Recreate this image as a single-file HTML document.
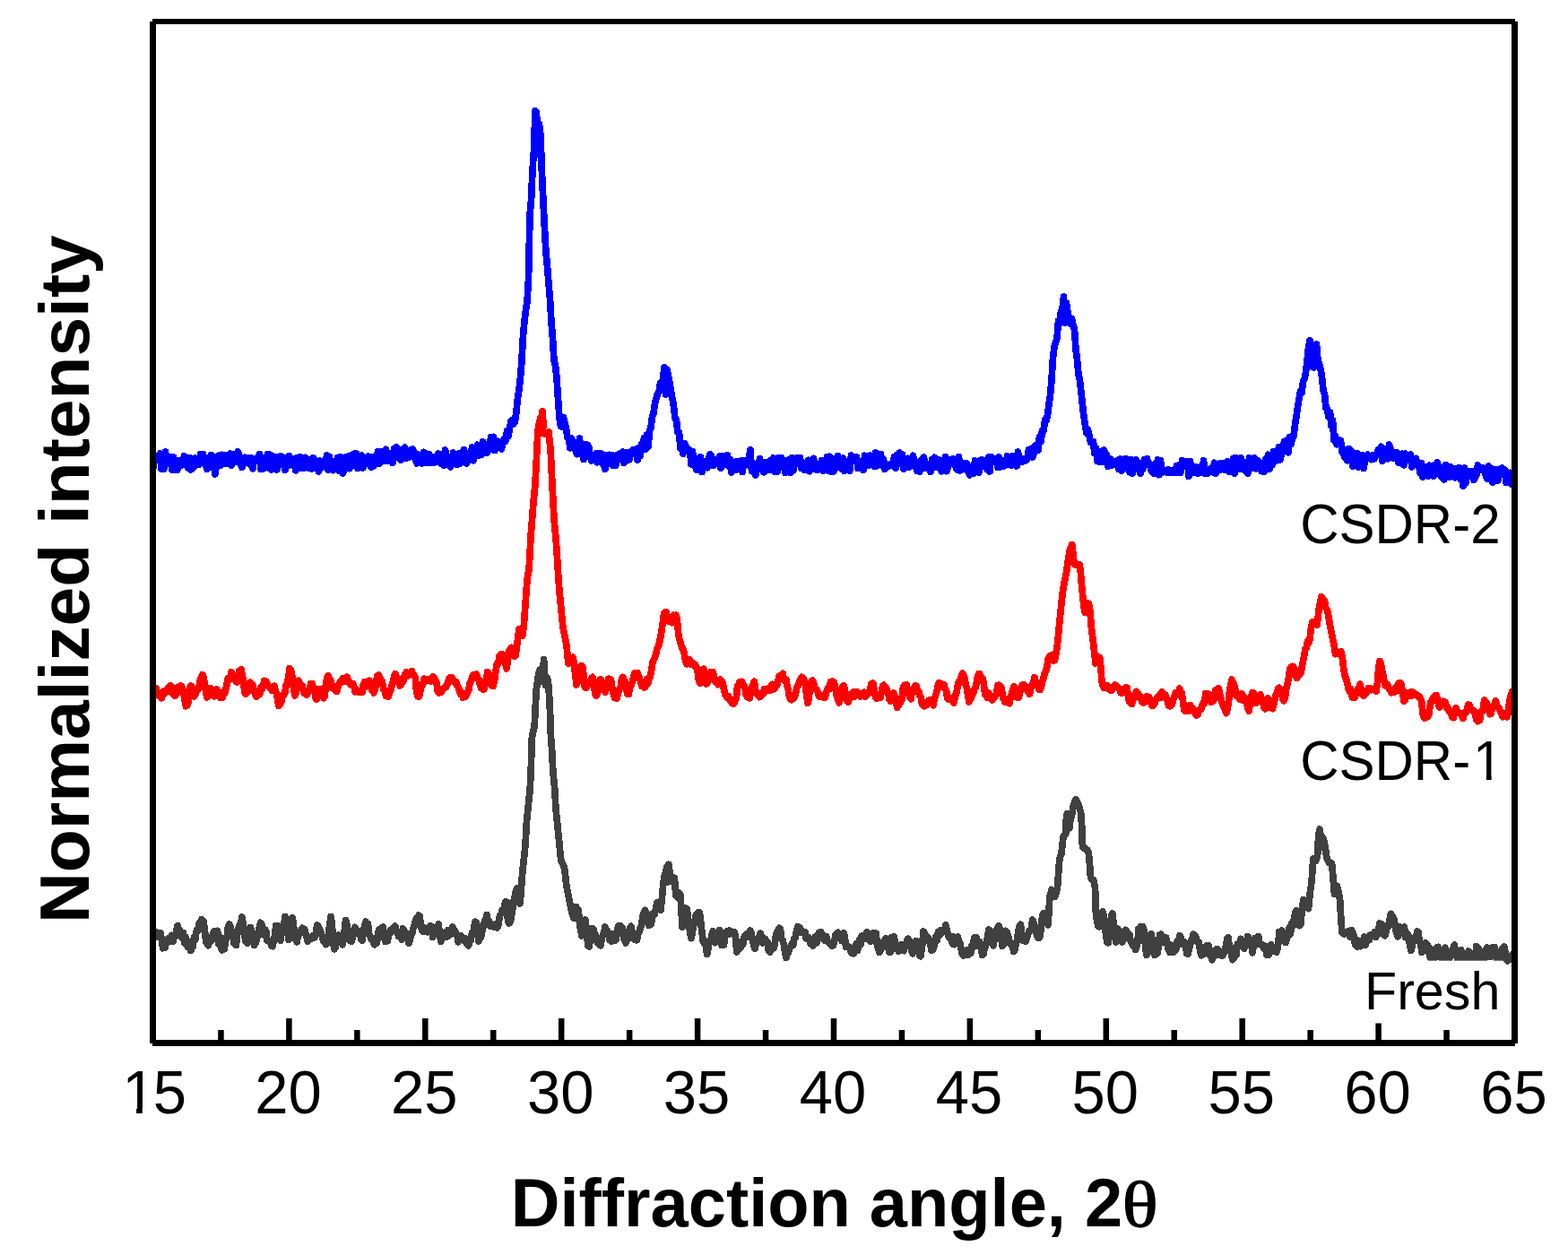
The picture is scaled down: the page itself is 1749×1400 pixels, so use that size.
<!DOCTYPE html>
<html lang="en">
<head>
<meta charset="utf-8">
<title>XRD patterns</title>
<style>
html,body{margin:0;padding:0;background:#fff;}
body{width:1749px;height:1400px;overflow:hidden;}
svg{display:block;}
text{font-family:"Liberation Sans",sans-serif;fill:#000;}
.tick{font-size:67px;text-anchor:middle;}
.lab{font-size:60px;text-anchor:end;}
.ax{font-weight:bold;}
.th{font-family:"Liberation Serif","DejaVu Serif",serif;font-weight:normal;}
.curve{fill:none;stroke-width:7.7;stroke-linejoin:round;stroke-linecap:butt;shape-rendering:crispEdges;}
</style>
</head>
<body>
<svg width="1749" height="1400" viewBox="0 0 1749 1400">
<rect x="0" y="0" width="1749" height="1400" fill="#ffffff"/>
<defs>
<clipPath id="plot"><rect x="172" y="26" width="1516" height="1136"/></clipPath>
</defs>
<g clip-path="url(#plot)">
<path class="curve" stroke="#0000ff" d="M171.0,522.1 L172.5,510.1 L174.0,508.9 L175.5,511.8 L177.0,509.4 L178.5,505.9 L180.0,523.0 L181.5,518.7 L183.0,523.2 L184.5,504.0 L186.0,517.4 L187.5,516.7 L189.0,513.1 L190.5,509.8 L192.0,523.9 L193.5,510.0 L195.0,524.1 L196.5,516.9 L198.0,524.3 L199.5,513.7 L201.0,513.9 L202.5,519.1 L204.0,518.4 L205.5,508.8 L207.0,510.7 L208.5,518.4 L210.0,522.4 L211.5,510.6 L213.0,523.9 L214.5,523.0 L216.0,521.3 L217.5,511.1 L219.0,512.5 L220.5,518.0 L222.0,518.2 L223.5,507.0 L225.0,512.2 L226.5,506.6 L228.0,511.5 L229.5,518.3 L231.0,523.4 L232.5,511.1 L234.0,517.8 L235.5,507.6 L237.0,509.2 L238.5,519.2 L240.0,529.0 L241.5,517.7 L243.0,509.2 L244.5,508.0 L246.0,519.2 L247.5,507.3 L249.0,508.0 L250.5,516.9 L252.0,507.7 L253.5,516.9 L255.0,510.8 L256.5,506.0 L258.0,519.2 L259.5,516.0 L261.0,507.0 L262.5,507.2 L264.0,514.8 L265.5,504.0 L267.0,509.3 L268.5,518.0 L270.0,521.5 L271.5,516.5 L273.0,510.3 L274.5,515.7 L276.0,511.4 L277.5,511.2 L279.0,518.3 L280.5,510.9 L282.0,522.7 L283.5,511.5 L285.0,512.8 L286.5,511.6 L288.0,511.3 L289.5,506.5 L291.0,523.5 L292.5,512.2 L294.0,522.7 L295.5,510.3 L297.0,517.9 L298.5,506.8 L300.0,521.9 L301.5,507.3 L303.0,523.9 L304.5,509.1 L306.0,521.0 L307.5,510.1 L309.0,523.9 L310.5,510.2 L312.0,518.4 L313.5,508.9 L315.0,510.7 L316.5,510.4 L318.0,524.4 L319.5,517.9 L321.0,519.9 L322.5,508.5 L324.0,518.2 L325.5,513.4 L327.0,519.1 L328.5,511.4 L330.0,524.8 L331.5,510.6 L333.0,520.1 L334.5,509.4 L336.0,522.1 L337.5,511.2 L339.0,522.5 L340.5,510.3 L342.0,513.8 L343.5,521.9 L345.0,513.3 L346.5,513.7 L348.0,523.0 L349.5,510.8 L351.0,512.5 L352.5,518.6 L354.0,520.0 L355.5,526.0 L357.0,513.9 L358.5,522.1 L360.0,520.1 L361.5,518.4 L363.0,520.0 L364.5,508.0 L366.0,524.0 L367.5,509.7 L369.0,520.3 L370.5,520.0 L372.0,524.6 L373.5,518.4 L375.0,519.6 L376.5,510.4 L378.0,525.3 L379.5,509.5 L381.0,520.6 L382.5,528.0 L384.0,522.2 L385.5,510.2 L387.0,522.6 L388.5,509.2 L390.0,522.7 L391.5,508.0 L393.0,518.7 L394.5,506.3 L396.0,519.1 L397.5,505.9 L399.0,522.6 L400.5,509.9 L402.0,510.9 L403.5,508.0 L405.0,522.0 L406.5,516.1 L408.0,515.9 L409.5,515.3 L411.0,509.0 L412.5,517.9 L414.0,521.1 L415.5,509.6 L417.0,519.8 L418.5,514.5 L420.0,510.1 L421.5,503.6 L423.0,517.2 L424.5,504.3 L426.0,514.5 L427.5,503.8 L429.0,514.5 L430.5,501.2 L432.0,514.3 L433.5,505.5 L435.0,511.6 L436.5,505.6 L438.0,516.5 L439.5,500.7 L441.0,510.5 L442.5,499.0 L444.0,502.5 L445.5,502.5 L447.0,513.2 L448.5,501.6 L450.0,503.5 L451.5,499.0 L453.0,511.5 L454.5,508.9 L456.0,510.5 L457.5,502.3 L459.0,504.3 L460.5,501.0 L462.0,505.1 L463.5,513.0 L465.0,516.9 L466.5,507.1 L468.0,507.5 L469.5,508.3 L471.0,517.0 L472.5,504.3 L474.0,515.3 L475.5,506.1 L477.0,516.6 L478.5,506.5 L480.0,516.6 L481.5,516.1 L483.0,509.5 L484.5,516.1 L486.0,515.6 L487.5,514.9 L489.0,506.1 L490.5,514.8 L492.0,517.4 L493.5,515.9 L495.0,519.2 L496.5,502.0 L498.0,509.0 L499.5,512.8 L501.0,518.1 L502.5,521.0 L504.0,513.7 L505.5,505.1 L507.0,507.7 L508.5,507.1 L510.0,518.5 L511.5,506.0 L513.0,517.3 L514.5,511.5 L516.0,507.0 L517.5,501.5 L519.0,508.6 L520.5,517.0 L522.0,511.9 L523.5,506.4 L525.0,512.8 L526.5,499.0 L528.0,513.8 L529.5,500.8 L531.0,508.1 L532.5,496.2 L534.0,508.0 L535.5,496.6 L537.0,507.3 L538.5,492.9 L540.0,502.8 L541.5,495.7 L543.0,505.3 L544.5,495.4 L546.0,500.3 L547.5,487.8 L549.0,501.0 L550.5,487.3 L552.0,502.5 L553.5,491.2 L555.0,496.7 L556.5,492.5 L558.0,494.3 L559.5,500.9 L561.0,493.2 L562.5,489.2 L564.0,492.1 L565.5,480.8 L567.0,486.9 L568.5,478.0 L570.0,469.9 L571.5,468.5 L573.0,472.7 L574.5,470.5 L576.0,458.8 L577.5,443.5 L579.0,435.1 L580.5,420.5 L582.0,402.5 L583.5,374.2 L585.0,357.7 L586.5,345.6 L588.0,336.7 L589.5,311.2 L591.0,240.5 L592.5,224.1 L594.0,190.1 L595.5,168.3 L597.0,123.5 L598.5,125.5 L600.0,172.0 L601.5,138.7 L603.0,151.0 L604.5,194.1 L606.0,225.6 L607.5,255.5 L609.0,282.1 L610.5,296.9 L612.0,316.2 L613.5,333.4 L615.0,359.6 L616.5,377.8 L618.0,402.1 L619.5,407.9 L621.0,421.1 L622.5,445.0 L624.0,466.0 L625.5,475.8 L627.0,476.1 L628.5,465.5 L630.0,471.8 L631.5,478.8 L633.0,488.0 L634.5,490.0 L636.0,499.8 L637.5,489.0 L639.0,495.4 L640.5,497.4 L642.0,502.2 L643.5,506.6 L645.0,503.9 L646.5,489.0 L648.0,506.4 L649.5,499.5 L651.0,512.6 L652.5,495.8 L654.0,506.8 L655.5,496.2 L657.0,499.8 L658.5,510.1 L660.0,514.0 L661.5,510.5 L663.0,507.8 L664.5,506.0 L666.0,515.7 L667.5,505.9 L669.0,512.6 L670.5,505.8 L672.0,515.7 L673.5,519.0 L675.0,523.5 L676.5,507.8 L678.0,517.9 L679.5,507.3 L681.0,508.2 L682.5,507.5 L684.0,519.4 L685.5,509.1 L687.0,519.3 L688.5,507.5 L690.0,512.8 L691.5,506.1 L693.0,508.2 L694.5,504.0 L696.0,516.4 L697.5,504.6 L699.0,511.2 L700.5,505.1 L702.0,512.8 L703.5,505.4 L705.0,503.0 L706.5,501.7 L708.0,504.2 L709.5,501.2 L711.0,513.1 L712.5,499.4 L714.0,508.9 L715.5,495.2 L717.0,501.2 L718.5,488.4 L720.0,501.4 L721.5,485.1 L723.0,498.5 L724.5,481.1 L726.0,477.5 L727.5,464.9 L729.0,461.2 L730.5,449.8 L732.0,444.5 L733.5,439.1 L735.0,437.4 L736.5,427.2 L738.0,429.7 L739.5,423.0 L741.0,409.8 L742.5,440.0 L744.0,412.5 L745.5,419.2 L747.0,426.7 L748.5,436.6 L750.0,444.8 L751.5,453.9 L753.0,466.6 L754.5,468.9 L756.0,482.2 L757.5,482.8 L759.0,500.1 L760.5,498.0 L762.0,506.1 L763.5,494.6 L765.0,497.4 L766.5,500.8 L768.0,503.2 L769.5,502.3 L771.0,517.8 L772.5,503.7 L774.0,518.3 L775.5,519.8 L777.0,524.1 L778.5,511.6 L780.0,516.4 L781.5,509.8 L783.0,526.5 L784.5,515.5 L786.0,521.9 L787.5,517.8 L789.0,521.8 L790.5,510.4 L792.0,507.0 L793.5,508.4 L795.0,519.4 L796.5,519.1 L798.0,514.3 L799.5,514.0 L801.0,514.2 L802.5,509.1 L804.0,522.2 L805.5,508.8 L807.0,518.7 L808.5,508.8 L810.0,511.7 L811.5,507.7 L813.0,520.2 L814.5,512.6 L816.0,527.1 L817.5,520.9 L819.0,524.6 L820.5,515.2 L822.0,523.8 L823.5,514.5 L825.0,522.5 L826.5,514.1 L828.0,526.6 L829.5,513.4 L831.0,514.8 L832.5,518.8 L834.0,514.3 L835.5,510.3 L837.0,502.0 L838.5,525.8 L840.0,525.8 L841.5,528.0 L843.0,529.9 L844.5,517.6 L846.0,524.0 L847.5,511.4 L849.0,521.5 L850.5,515.6 L852.0,526.7 L853.5,515.4 L855.0,525.0 L856.5,516.1 L858.0,524.6 L859.5,513.9 L861.0,515.9 L862.5,510.9 L864.0,526.2 L865.5,513.4 L867.0,526.0 L868.5,510.9 L870.0,516.6 L871.5,510.5 L873.0,516.4 L874.5,521.6 L876.0,527.5 L877.5,513.4 L879.0,515.6 L880.5,512.7 L882.0,527.5 L883.5,510.5 L885.0,524.6 L886.5,515.5 L888.0,516.1 L889.5,510.8 L891.0,516.3 L892.5,510.5 L894.0,522.6 L895.5,521.9 L897.0,524.1 L898.5,516.4 L900.0,523.3 L901.5,513.3 L903.0,525.8 L904.5,522.7 L906.0,516.4 L907.5,511.3 L909.0,523.3 L910.5,520.5 L912.0,524.5 L913.5,520.6 L915.0,521.6 L916.5,513.7 L918.0,525.2 L919.5,515.1 L921.0,520.4 L922.5,509.4 L924.0,525.0 L925.5,509.2 L927.0,526.1 L928.5,511.2 L930.0,526.0 L931.5,521.3 L933.0,521.0 L934.5,508.8 L936.0,519.3 L937.5,520.9 L939.0,522.9 L940.5,511.1 L942.0,525.4 L943.5,519.5 L945.0,514.5 L946.5,520.7 L948.0,525.1 L949.5,508.0 L951.0,511.4 L952.5,510.1 L954.0,511.2 L955.5,509.8 L957.0,522.6 L958.5,519.9 L960.0,518.2 L961.5,519.7 L963.0,524.4 L964.5,508.1 L966.0,513.7 L967.5,512.8 L969.0,519.6 L970.5,508.0 L972.0,512.2 L973.5,512.7 L975.0,519.9 L976.5,505.0 L978.0,520.1 L979.5,512.5 L981.0,512.5 L982.5,506.5 L984.0,519.3 L985.5,512.3 L987.0,523.5 L988.5,519.7 L990.0,520.9 L991.5,520.1 L993.0,517.7 L994.5,518.7 L996.0,518.5 L997.5,509.7 L999.0,522.1 L1000.5,507.7 L1002.0,517.7 L1003.5,505.0 L1005.0,513.4 L1006.5,506.9 L1008.0,523.2 L1009.5,518.2 L1011.0,512.5 L1012.5,511.4 L1014.0,521.4 L1015.5,518.5 L1017.0,514.4 L1018.5,508.3 L1020.0,520.0 L1021.5,514.8 L1023.0,525.6 L1024.5,522.4 L1026.0,526.0 L1027.5,513.2 L1029.0,521.1 L1030.5,510.1 L1032.0,522.4 L1033.5,522.5 L1035.0,520.6 L1036.5,521.0 L1038.0,526.5 L1039.5,512.9 L1041.0,516.5 L1042.5,510.2 L1044.0,521.3 L1045.5,516.0 L1047.0,512.9 L1048.5,521.9 L1050.0,525.8 L1051.5,515.3 L1053.0,516.4 L1054.5,509.5 L1056.0,525.7 L1057.5,520.8 L1059.0,515.2 L1060.5,512.6 L1062.0,514.1 L1063.5,511.8 L1065.0,512.9 L1066.5,522.1 L1068.0,524.1 L1069.5,509.5 L1071.0,524.9 L1072.5,520.7 L1074.0,522.0 L1075.5,516.5 L1077.0,523.7 L1078.5,516.9 L1080.0,524.9 L1081.5,530.0 L1083.0,525.0 L1084.5,522.7 L1086.0,528.3 L1087.5,513.9 L1089.0,521.7 L1090.5,522.4 L1092.0,527.1 L1093.5,513.5 L1095.0,512.9 L1096.5,514.9 L1098.0,520.4 L1099.5,513.7 L1101.0,523.5 L1102.5,510.2 L1104.0,525.9 L1105.5,509.6 L1107.0,515.9 L1108.5,511.3 L1110.0,515.8 L1111.5,512.8 L1113.0,521.4 L1114.5,510.0 L1116.0,521.0 L1117.5,519.2 L1119.0,514.0 L1120.5,519.7 L1122.0,518.8 L1123.5,509.0 L1125.0,516.9 L1126.5,516.9 L1128.0,519.2 L1129.5,508.4 L1131.0,514.7 L1132.5,509.1 L1134.0,519.9 L1135.5,504.1 L1137.0,514.7 L1138.5,512.1 L1140.0,515.3 L1141.5,512.0 L1143.0,514.1 L1144.5,513.7 L1146.0,511.5 L1147.5,501.6 L1149.0,503.8 L1150.5,500.4 L1152.0,510.1 L1153.5,504.4 L1155.0,497.1 L1156.5,500.4 L1158.0,502.5 L1159.5,487.3 L1161.0,492.9 L1162.5,480.5 L1164.0,481.0 L1165.5,468.9 L1167.0,469.4 L1168.5,462.6 L1170.0,451.0 L1171.5,441.0 L1173.0,424.3 L1174.5,399.2 L1176.0,387.3 L1177.5,381.7 L1179.0,377.7 L1180.5,358.1 L1182.0,360.9 L1183.5,347.1 L1185.0,344.4 L1186.5,331.0 L1188.0,360.0 L1189.5,338.0 L1191.0,349.0 L1192.5,353.7 L1194.0,361.1 L1195.5,355.6 L1197.0,362.6 L1198.5,367.5 L1200.0,389.6 L1201.5,400.9 L1203.0,417.5 L1204.5,424.1 L1206.0,437.9 L1207.5,452.1 L1209.0,464.7 L1210.5,474.1 L1212.0,483.0 L1213.5,479.5 L1215.0,486.1 L1216.5,493.4 L1218.0,492.9 L1219.5,492.7 L1221.0,505.9 L1222.5,499.7 L1224.0,514.5 L1225.5,503.4 L1227.0,515.4 L1228.5,507.2 L1230.0,515.4 L1231.5,502.1 L1233.0,505.7 L1234.5,507.2 L1236.0,520.4 L1237.5,514.2 L1239.0,512.3 L1240.5,519.2 L1242.0,518.4 L1243.5,518.6 L1245.0,514.1 L1246.5,514.0 L1248.0,523.4 L1249.5,512.1 L1251.0,525.3 L1252.5,523.6 L1254.0,521.1 L1255.5,511.4 L1257.0,522.6 L1258.5,514.4 L1260.0,526.7 L1261.5,512.4 L1263.0,528.0 L1264.5,517.5 L1266.0,518.2 L1267.5,512.9 L1269.0,518.6 L1270.5,523.4 L1272.0,528.2 L1273.5,524.0 L1275.0,523.1 L1276.5,512.5 L1278.0,514.4 L1279.5,511.6 L1281.0,518.0 L1282.5,517.1 L1284.0,524.8 L1285.5,521.7 L1287.0,528.2 L1288.5,517.3 L1290.0,518.0 L1291.5,512.7 L1293.0,529.7 L1294.5,513.8 L1296.0,525.9 L1297.5,526.7 L1299.0,525.2 L1300.5,524.8 L1302.0,527.0 L1303.5,524.0 L1305.0,527.4 L1306.5,524.8 L1308.0,525.7 L1309.5,527.4 L1311.0,526.4 L1312.5,520.0 L1314.0,527.2 L1315.5,518.8 L1317.0,527.2 L1318.5,513.6 L1320.0,519.7 L1321.5,515.5 L1323.0,518.9 L1324.5,514.8 L1326.0,531.4 L1327.5,514.6 L1329.0,521.8 L1330.5,526.5 L1332.0,527.2 L1333.5,520.6 L1335.0,521.3 L1336.5,528.1 L1338.0,526.0 L1339.5,520.8 L1341.0,526.8 L1342.5,513.9 L1344.0,528.1 L1345.5,526.9 L1347.0,528.4 L1348.5,523.4 L1350.0,523.9 L1351.5,522.7 L1353.0,526.9 L1354.5,516.2 L1356.0,528.1 L1357.5,525.9 L1359.0,518.3 L1360.5,517.3 L1362.0,524.0 L1363.5,516.5 L1365.0,519.8 L1366.5,524.4 L1368.0,518.2 L1369.5,514.7 L1371.0,526.3 L1372.5,515.9 L1374.0,525.0 L1375.5,511.3 L1377.0,528.1 L1378.5,510.8 L1380.0,522.0 L1381.5,523.4 L1383.0,522.4 L1384.5,511.0 L1386.0,523.5 L1387.5,523.5 L1389.0,525.1 L1390.5,523.3 L1392.0,528.1 L1393.5,510.8 L1395.0,513.9 L1396.5,516.5 L1398.0,522.4 L1399.5,511.0 L1401.0,522.7 L1402.5,513.6 L1404.0,521.3 L1405.5,515.9 L1407.0,525.6 L1408.5,521.4 L1410.0,526.5 L1411.5,512.2 L1413.0,519.8 L1414.5,507.2 L1416.0,523.5 L1417.5,519.4 L1419.0,519.1 L1420.5,503.8 L1422.0,514.4 L1423.5,514.0 L1425.0,503.6 L1426.5,498.8 L1428.0,512.9 L1429.5,505.8 L1431.0,500.2 L1432.5,492.6 L1434.0,497.9 L1435.5,491.1 L1437.0,504.8 L1438.5,487.9 L1440.0,495.7 L1441.5,489.6 L1443.0,486.8 L1444.5,473.7 L1446.0,464.6 L1447.5,453.9 L1449.0,445.1 L1450.5,436.3 L1452.0,438.7 L1453.5,425.7 L1455.0,422.6 L1456.5,415.7 L1458.0,402.3 L1459.5,387.8 L1461.0,380.0 L1462.5,408.0 L1464.0,387.1 L1465.5,410.0 L1467.0,395.7 L1468.5,384.0 L1470.0,402.5 L1471.5,405.6 L1473.0,411.6 L1474.5,420.1 L1476.0,435.6 L1477.5,440.0 L1479.0,454.9 L1480.5,456.4 L1482.0,465.2 L1483.5,459.9 L1485.0,475.0 L1486.5,468.9 L1488.0,491.3 L1489.5,486.0 L1491.0,495.7 L1492.5,495.5 L1494.0,490.9 L1495.5,491.7 L1497.0,504.3 L1498.5,505.9 L1500.0,510.0 L1501.5,502.0 L1503.0,513.8 L1504.5,500.4 L1506.0,505.1 L1507.5,503.3 L1509.0,520.0 L1510.5,505.3 L1512.0,508.4 L1513.5,505.6 L1515.0,521.3 L1516.5,512.2 L1518.0,520.5 L1519.5,507.4 L1521.0,522.6 L1522.5,513.6 L1524.0,511.6 L1525.5,507.1 L1527.0,510.5 L1528.5,508.6 L1530.0,512.6 L1531.5,507.5 L1533.0,511.9 L1534.5,507.7 L1536.0,505.8 L1537.5,501.4 L1539.0,506.1 L1540.5,498.2 L1542.0,514.4 L1543.5,502.0 L1545.0,510.7 L1546.5,500.6 L1548.0,511.8 L1549.5,496.0 L1551.0,500.2 L1552.5,508.5 L1554.0,511.2 L1555.5,507.4 L1557.0,504.9 L1558.5,505.1 L1560.0,516.2 L1561.5,511.9 L1563.0,513.7 L1564.5,506.2 L1566.0,518.7 L1567.5,506.1 L1569.0,511.3 L1570.5,511.4 L1572.0,513.1 L1573.5,507.2 L1575.0,521.1 L1576.5,515.3 L1578.0,514.0 L1579.5,511.4 L1581.0,517.6 L1582.5,518.1 L1584.0,527.8 L1585.5,516.5 L1587.0,532.2 L1588.5,520.5 L1590.0,530.6 L1591.5,528.6 L1593.0,531.2 L1594.5,519.2 L1596.0,520.4 L1597.5,519.7 L1599.0,531.1 L1600.5,518.6 L1602.0,524.8 L1603.5,516.0 L1605.0,528.7 L1606.5,521.6 L1608.0,531.9 L1609.5,527.0 L1611.0,534.9 L1612.5,518.6 L1614.0,532.3 L1615.5,522.6 L1617.0,532.3 L1618.5,520.9 L1620.0,526.1 L1621.5,530.5 L1623.0,532.7 L1624.5,522.5 L1626.0,527.6 L1627.5,521.6 L1629.0,534.6 L1630.5,524.8 L1632.0,542.0 L1633.5,522.0 L1635.0,538.6 L1636.5,525.6 L1638.0,531.9 L1639.5,525.9 L1641.0,530.8 L1642.5,525.6 L1644.0,535.5 L1645.5,532.1 L1647.0,529.6 L1648.5,518.8 L1650.0,521.4 L1651.5,521.4 L1653.0,524.1 L1654.5,522.1 L1656.0,523.6 L1657.5,531.8 L1659.0,534.5 L1660.5,520.0 L1662.0,532.4 L1663.5,522.8 L1665.0,538.1 L1666.5,534.2 L1668.0,534.9 L1669.5,523.9 L1671.0,535.9 L1672.5,525.0 L1674.0,523.0 L1675.5,521.9 L1677.0,527.7 L1678.5,524.1 L1680.0,538.4 L1681.5,526.9 L1683.0,537.6 L1684.5,527.3 L1686.0,539.9 L1687.5,535.2 L1689.0,536.4"/>
</g>
<g clip-path="url(#plot)">
<path class="curve" stroke="#404040" d="M172.0,1037.2 L173.0,1040.3 L174.0,1039.6 L175.3,1045.5 L176.7,1044.9 L178.0,1045.6 L179.2,1040.8 L180.4,1049.1 L181.6,1057.8 L182.8,1056.6 L184.0,1057.1 L185.2,1050.1 L186.4,1052.2 L187.6,1047.0 L188.8,1048.4 L190.0,1047.2 L191.5,1043.4 L193.0,1050.5 L194.3,1044.6 L195.7,1044.5 L197.0,1036.3 L198.2,1032.4 L199.5,1042.7 L200.8,1037.8 L202.0,1044.8 L203.2,1041.1 L204.4,1040.6 L205.6,1051.9 L206.8,1044.9 L208.0,1048.4 L209.2,1056.5 L210.4,1056.8 L211.6,1051.4 L212.8,1060.6 L214.0,1055.7 L215.2,1055.8 L216.4,1045.7 L217.6,1048.8 L218.8,1040.6 L220.0,1036.8 L221.2,1038.1 L222.4,1029.4 L223.6,1028.9 L224.8,1025.8 L226.0,1028.2 L227.2,1028.0 L228.5,1039.1 L229.8,1050.9 L231.0,1051.6 L232.3,1054.8 L233.6,1048.9 L234.9,1046.1 L236.1,1049.4 L237.4,1042.9 L238.7,1039.0 L240.0,1040.5 L241.3,1043.9 L242.6,1038.4 L243.9,1052.6 L245.1,1044.7 L246.4,1056.6 L247.7,1060.0 L249.0,1055.1 L250.3,1058.6 L251.7,1049.5 L253.0,1046.7 L254.3,1034.6 L255.7,1031.0 L257.0,1033.6 L258.2,1042.8 L259.5,1039.3 L260.8,1051.7 L262.0,1052.7 L263.3,1054.5 L264.7,1042.4 L266.0,1036.1 L267.3,1031.7 L268.7,1029.8 L270.0,1023.1 L271.2,1031.4 L272.5,1040.5 L273.8,1049.7 L275.0,1047.6 L276.1,1052.3 L277.3,1036.9 L278.5,1034.8 L279.6,1034.8 L281.0,1042.2 L282.3,1041.3 L283.6,1054.4 L285.0,1052.2 L286.4,1047.7 L287.8,1042.9 L289.2,1035.4 L290.6,1029.3 L292.0,1031.1 L293.2,1035.9 L294.4,1042.8 L295.6,1036.8 L296.8,1039.4 L298.0,1049.4 L299.2,1049.9 L300.4,1050.2 L301.6,1049.8 L302.8,1055.1 L304.0,1055.6 L305.2,1050.8 L306.5,1043.7 L307.8,1032.6 L309.0,1036.4 L310.3,1032.7 L311.7,1044.5 L313.0,1049.2 L314.2,1039.5 L315.5,1037.8 L316.8,1031.5 L318.0,1022.5 L319.3,1032.4 L320.7,1037.1 L322.0,1048.5 L323.3,1038.2 L324.7,1034.9 L326.0,1023.8 L327.3,1029.5 L328.7,1046.4 L330.0,1047.3 L331.2,1050.8 L332.4,1042.4 L333.6,1040.3 L334.8,1041.1 L336.0,1037.4 L337.2,1035.4 L338.4,1038.0 L339.6,1036.5 L340.8,1041.0 L342.0,1045.5 L343.2,1050.4 L344.4,1047.7 L345.6,1047.2 L346.8,1046.1 L348.0,1046.8 L349.4,1043.9 L350.8,1046.0 L352.2,1042.2 L353.6,1032.1 L355.0,1033.1 L356.4,1036.9 L357.8,1039.6 L359.2,1044.0 L360.6,1049.6 L362.0,1048.9 L363.5,1053.7 L365.0,1051.6 L366.3,1044.2 L367.7,1031.6 L369.0,1022.4 L370.3,1030.1 L371.7,1051.9 L373.0,1058.7 L374.2,1056.7 L375.5,1048.0 L376.8,1046.6 L378.0,1043.1 L379.3,1048.3 L380.7,1050.0 L382.0,1053.9 L383.2,1047.8 L384.4,1037.2 L385.6,1026.5 L387.0,1032.1 L388.3,1040.5 L389.6,1048.9 L391.0,1047.8 L392.2,1050.0 L393.5,1045.0 L394.8,1037.4 L396.0,1034.4 L397.4,1039.7 L398.8,1038.0 L400.2,1042.4 L401.6,1041.7 L403.0,1048.4 L404.2,1049.3 L405.5,1037.0 L406.8,1032.8 L408.0,1028.2 L409.2,1032.3 L410.5,1030.5 L411.8,1043.3 L413.0,1044.0 L414.2,1047.8 L415.4,1046.8 L416.6,1050.9 L417.8,1053.8 L419.0,1051.5 L420.4,1051.9 L421.8,1039.7 L423.2,1036.6 L424.6,1036.0 L426.0,1035.6 L427.2,1034.2 L428.5,1045.3 L429.8,1050.2 L431.0,1049.5 L432.2,1049.7 L433.4,1044.3 L434.6,1039.1 L435.8,1037.3 L437.0,1039.5 L438.2,1035.8 L439.5,1035.4 L440.8,1033.2 L442.0,1038.5 L443.3,1038.8 L444.7,1044.6 L446.0,1045.1 L447.2,1041.2 L448.4,1048.0 L449.6,1035.9 L450.8,1039.6 L452.0,1039.4 L453.3,1042.1 L454.7,1044.0 L456.0,1052.2 L457.2,1049.0 L458.5,1042.6 L459.8,1041.4 L461.0,1035.4 L462.2,1032.6 L463.4,1026.9 L464.6,1024.6 L465.8,1024.2 L467.0,1021.1 L468.2,1022.1 L469.5,1033.5 L470.8,1038.1 L472.0,1039.0 L473.3,1034.6 L474.7,1038.8 L476.0,1036.7 L477.3,1039.7 L478.7,1038.6 L480.0,1032.8 L481.3,1033.5 L482.7,1045.4 L484.0,1041.7 L485.3,1036.0 L486.7,1036.3 L488.0,1033.1 L489.2,1030.8 L490.5,1041.9 L491.8,1050.3 L493.0,1047.5 L494.4,1046.2 L495.8,1041.5 L497.2,1039.5 L498.6,1045.2 L500.0,1037.7 L501.2,1043.2 L502.4,1042.3 L503.6,1038.1 L504.8,1033.9 L506.0,1038.4 L507.3,1038.3 L508.7,1040.6 L510.0,1043.3 L511.2,1050.7 L512.4,1045.5 L513.6,1043.6 L514.8,1046.5 L516.0,1046.0 L517.3,1049.6 L518.7,1048.3 L520.0,1047.3 L521.3,1053.9 L522.7,1054.9 L524.0,1049.4 L525.2,1049.3 L526.4,1040.7 L527.6,1042.2 L528.8,1034.9 L530.0,1028.3 L531.2,1029.2 L532.5,1033.9 L533.8,1050.0 L535.0,1046.2 L536.4,1045.8 L537.8,1038.5 L539.2,1033.8 L540.6,1027.6 L542.0,1024.9 L543.2,1020.4 L544.4,1030.6 L545.6,1027.9 L546.8,1033.1 L548.0,1033.2 L549.3,1031.2 L550.7,1033.8 L552.0,1032.6 L553.3,1030.9 L554.7,1034.9 L556.0,1031.5 L557.5,1021.3 L559.0,1019.5 L560.1,1015.4 L561.3,1016.2 L562.5,1012.0 L563.6,1006.0 L565.1,1006.2 L566.5,1027.1 L568.0,1029.9 L569.2,1028.1 L570.4,1023.0 L571.6,1014.7 L572.8,1005.9 L574.0,1000.8 L575.5,993.3 L577.0,990.8 L578.5,1001.8 L580.0,1008.0 L581.1,996.7 L582.2,980.0 L583.2,968.8 L584.2,960.0 L585.2,951.2 L586.2,940.0 L587.2,920.0 L588.2,909.7 L589.2,900.0 L590.2,890.1 L591.2,880.0 L592.2,859.9 L592.8,841.2 L593.2,824.0 L594.7,816.0 L596.2,810.0 L597.2,790.0 L598.2,770.0 L600.0,756.0 L601.1,750.6 L602.3,747.0 L603.3,754.8 L604.3,760.3 L605.5,751.2 L606.6,735.9 L607.6,752.0 L608.3,764.0 L609.4,759.1 L610.5,756.0 L611.8,764.0 L612.8,780.0 L613.8,800.0 L614.4,820.2 L615.8,839.1 L616.8,860.0 L617.8,870.9 L618.8,880.0 L619.8,900.0 L620.8,910.7 L621.8,920.0 L622.8,930.2 L623.8,940.0 L624.8,950.7 L625.8,960.0 L627.1,962.9 L628.5,965.4 L629.8,970.0 L630.8,978.9 L631.8,988.0 L633.4,996.1 L635.0,1004.0 L636.2,1009.5 L637.5,1016.2 L638.8,1020.7 L640.0,1024.2 L641.3,1019.1 L642.7,1011.5 L644.0,1015.5 L645.2,1015.0 L646.5,1030.2 L647.8,1038.3 L649.0,1044.0 L650.3,1039.1 L651.7,1032.4 L653.0,1026.1 L654.5,1042.1 L656.0,1055.1 L657.2,1056.0 L658.5,1046.6 L659.8,1035.4 L661.0,1035.8 L662.3,1037.0 L663.7,1045.0 L665.0,1044.5 L666.2,1050.8 L667.5,1052.9 L668.8,1048.2 L670.0,1054.7 L671.2,1047.2 L672.4,1042.9 L673.6,1043.0 L674.8,1034.0 L676.0,1036.6 L677.3,1038.2 L678.7,1042.2 L680.0,1048.6 L681.2,1041.9 L682.4,1050.2 L683.6,1042.2 L684.8,1043.3 L686.0,1049.1 L687.2,1048.1 L688.4,1038.8 L689.6,1033.0 L690.8,1039.5 L692.0,1032.8 L693.2,1038.2 L694.4,1035.2 L695.6,1047.1 L696.8,1049.0 L698.0,1051.9 L699.2,1049.0 L700.4,1047.8 L701.6,1039.3 L702.8,1035.2 L704.0,1033.4 L705.3,1041.8 L706.7,1045.6 L708.0,1048.1 L709.2,1045.5 L710.4,1048.7 L711.6,1042.1 L712.8,1040.0 L714.0,1036.0 L715.5,1032.7 L716.9,1021.5 L718.4,1017.8 L719.8,1015.5 L721.2,1021.6 L722.6,1023.6 L724.0,1032.4 L725.2,1030.0 L726.4,1031.3 L727.6,1019.3 L728.8,1021.7 L730.0,1020.1 L731.5,1013.4 L733.0,1007.0 L734.3,1009.2 L735.7,1011.1 L737.0,1015.3 L738.5,1000.5 L740.0,984.3 L741.3,976.2 L742.6,972.8 L743.9,966.8 L745.1,965.3 L746.4,965.2 L747.2,979.8 L744.8,983.9 L746.0,964.3 L747.3,983.0 L748.5,979.5 L749.8,982.8 L751.1,978.8 L752.4,979.4 L753.2,990.7 L754.0,999.3 L755.2,998.8 L756.5,1001.8 L757.8,996.2 L759.0,999.0 L760.0,1015.0 L761.0,1034.3 L762.3,1030.3 L763.7,1016.8 L765.0,1013.1 L766.2,1013.9 L767.4,1023.0 L768.6,1031.2 L769.8,1041.1 L771.0,1046.7 L772.3,1040.0 L773.7,1032.3 L775.0,1028.1 L776.3,1020.7 L777.7,1021.7 L779.0,1017.8 L780.3,1017.8 L781.7,1028.6 L783.0,1040.5 L784.4,1050.7 L785.8,1052.6 L787.2,1054.7 L788.6,1064.5 L790.0,1058.2 L791.3,1050.2 L792.7,1050.4 L794.0,1042.2 L795.3,1039.0 L796.7,1048.5 L798.0,1051.6 L799.5,1047.2 L800.9,1040.0 L802.4,1037.5 L803.7,1040.9 L805.0,1054.5 L806.2,1051.7 L807.5,1054.2 L808.8,1040.6 L810.0,1043.5 L811.3,1038.6 L812.7,1042.4 L814.0,1038.0 L815.3,1040.1 L816.7,1041.8 L818.0,1042.2 L819.2,1040.0 L820.5,1045.3 L821.8,1062.0 L823.0,1057.6 L824.2,1058.6 L825.4,1056.6 L826.6,1057.0 L827.8,1050.2 L829.0,1052.9 L830.3,1044.5 L831.7,1043.6 L833.0,1041.6 L834.2,1041.4 L835.5,1045.0 L836.8,1038.1 L838.0,1040.8 L839.3,1047.5 L840.7,1054.0 L842.0,1058.1 L843.2,1054.0 L844.5,1051.8 L845.8,1047.7 L847.0,1044.2 L848.2,1041.2 L849.5,1045.0 L850.8,1052.1 L852.0,1049.2 L853.3,1047.4 L854.7,1051.6 L856.0,1050.7 L857.3,1060.4 L858.7,1062.2 L860.0,1058.3 L861.5,1054.9 L863.0,1057.9 L864.2,1052.9 L865.5,1043.2 L866.8,1039.6 L868.0,1037.3 L869.2,1035.2 L870.5,1036.3 L871.8,1048.3 L873.0,1048.8 L874.3,1053.6 L875.7,1062.6 L877.0,1068.5 L878.2,1062.6 L879.5,1062.7 L880.8,1056.9 L882.0,1056.2 L883.3,1052.9 L884.7,1054.1 L886.0,1046.9 L887.2,1045.6 L888.5,1039.0 L889.8,1033.8 L891.0,1034.1 L892.4,1035.3 L893.8,1040.1 L895.2,1039.1 L896.6,1040.8 L898.0,1039.6 L899.2,1046.7 L900.4,1045.0 L901.6,1045.5 L902.8,1047.5 L904.0,1052.7 L905.3,1050.7 L906.7,1054.9 L908.0,1049.1 L909.3,1045.1 L910.7,1052.2 L912.0,1048.0 L913.2,1041.0 L914.4,1039.9 L915.6,1039.6 L916.8,1041.4 L918.0,1044.0 L919.3,1048.8 L920.6,1046.7 L921.9,1044.7 L923.1,1049.9 L924.4,1051.7 L925.7,1053.2 L927.0,1054.2 L928.2,1055.2 L929.5,1054.2 L930.8,1049.1 L932.0,1043.0 L933.3,1044.7 L934.7,1040.2 L936.0,1046.6 L937.3,1043.3 L938.7,1049.2 L940.0,1045.0 L941.2,1040.5 L942.4,1045.9 L943.6,1056.6 L944.8,1054.3 L946.0,1056.2 L947.3,1056.2 L948.7,1060.5 L950.0,1062.9 L951.3,1058.3 L952.7,1063.7 L954.0,1058.5 L955.2,1053.0 L956.4,1060.5 L957.6,1054.3 L958.8,1048.2 L960.0,1053.7 L961.2,1044.3 L962.4,1048.2 L963.6,1044.4 L964.8,1047.2 L966.0,1041.4 L967.2,1039.6 L968.5,1043.2 L969.8,1045.1 L971.0,1050.1 L972.2,1047.1 L973.5,1049.3 L974.8,1040.7 L976.0,1042.1 L977.2,1041.4 L978.4,1054.5 L979.6,1058.0 L980.8,1062.4 L982.0,1060.4 L983.2,1057.6 L984.4,1051.7 L985.6,1056.5 L986.8,1049.5 L988.0,1046.8 L989.3,1047.8 L990.7,1053.1 L992.0,1062.0 L993.3,1061.9 L994.7,1045.7 L996.0,1046.2 L997.2,1044.6 L998.5,1052.6 L999.8,1058.6 L1001.0,1057.1 L1002.4,1061.4 L1003.8,1057.3 L1005.2,1053.7 L1006.6,1060.2 L1008.0,1060.6 L1009.2,1054.7 L1010.5,1053.3 L1011.8,1048.5 L1013.0,1047.3 L1014.2,1048.9 L1015.5,1054.6 L1016.8,1060.6 L1018.0,1063.8 L1019.3,1058.1 L1020.7,1058.1 L1022.0,1049.6 L1023.2,1056.4 L1024.5,1059.8 L1025.8,1065.7 L1027.0,1066.6 L1028.5,1056.6 L1030.0,1039.0 L1031.3,1041.4 L1032.7,1044.4 L1034.0,1044.8 L1035.2,1045.9 L1036.5,1048.8 L1037.8,1053.7 L1039.0,1060.2 L1040.2,1059.8 L1041.5,1057.4 L1042.8,1051.9 L1044.0,1045.0 L1045.2,1049.0 L1046.5,1039.7 L1047.8,1043.7 L1049.0,1038.1 L1050.2,1040.8 L1051.4,1037.6 L1052.6,1038.9 L1053.8,1036.6 L1055.0,1031.9 L1056.2,1037.8 L1057.5,1042.2 L1058.8,1046.3 L1060.0,1046.6 L1061.2,1048.0 L1062.4,1052.7 L1063.6,1044.8 L1064.8,1053.7 L1066.0,1048.4 L1067.2,1047.8 L1068.4,1045.1 L1069.6,1052.2 L1070.8,1052.0 L1072.0,1058.3 L1073.3,1064.1 L1074.7,1065.8 L1076.0,1063.8 L1077.3,1062.3 L1078.7,1059.8 L1080.0,1065.5 L1081.3,1064.2 L1082.7,1063.1 L1084.0,1054.9 L1085.3,1057.1 L1086.7,1045.9 L1088.0,1047.4 L1089.2,1045.6 L1090.5,1050.8 L1091.8,1055.4 L1093.0,1050.9 L1094.3,1057.9 L1095.7,1065.5 L1097.0,1064.4 L1098.2,1057.1 L1099.4,1055.9 L1100.6,1050.5 L1101.8,1043.9 L1103.0,1037.1 L1104.2,1038.0 L1105.5,1044.0 L1106.8,1051.1 L1108.0,1054.9 L1109.2,1047.9 L1110.5,1040.7 L1111.8,1037.6 L1113.0,1034.8 L1114.2,1032.8 L1115.5,1038.6 L1116.8,1047.2 L1118.0,1055.5 L1119.2,1054.1 L1120.5,1043.7 L1121.8,1038.4 L1123.0,1040.0 L1124.2,1043.1 L1125.5,1047.8 L1126.8,1052.8 L1128.0,1051.8 L1129.3,1055.3 L1130.7,1061.3 L1132.0,1059.6 L1133.2,1051.8 L1134.5,1049.4 L1135.8,1038.2 L1137.0,1034.0 L1138.4,1031.3 L1139.8,1041.7 L1141.2,1049.2 L1142.6,1049.6 L1144.0,1050.5 L1145.2,1046.9 L1146.5,1043.2 L1147.8,1038.5 L1149.0,1038.4 L1150.3,1036.7 L1151.7,1026.2 L1153.0,1029.8 L1154.2,1033.4 L1155.4,1038.4 L1156.6,1043.0 L1157.8,1045.9 L1159.0,1046.5 L1160.3,1044.0 L1161.7,1028.0 L1163.0,1020.9 L1164.2,1018.6 L1165.4,1021.6 L1166.6,1024.9 L1167.8,1028.8 L1169.0,1031.8 L1170.0,1016.5 L1171.0,999.5 L1172.0,996.5 L1173.0,992.4 L1174.3,994.3 L1175.7,998.5 L1177.0,1000.0 L1178.3,995.8 L1179.6,989.0 L1181.0,969.3 L1181.9,957.8 L1183.0,954.8 L1184.0,951.9 L1184.9,943.8 L1186.0,933.1 L1187.3,932.2 L1188.7,930.5 L1189.2,915.3 L1190.3,907.7 L1191.5,916.2 L1192.8,924.0 L1194.0,913.8 L1195.3,910.3 L1196.6,902.8 L1197.7,896.9 L1198.9,893.9 L1200.0,891.9 L1201.8,895.0 L1202.8,897.5 L1203.9,900.2 L1205.6,906.6 L1206.7,921.7 L1207.1,938.2 L1207.6,945.2 L1208.8,945.9 L1210.0,946.0 L1211.2,947.3 L1212.4,947.7 L1213.4,949.1 L1214.4,952.2 L1215.6,965.5 L1216.3,976.0 L1217.0,980.1 L1218.4,980.8 L1219.8,981.9 L1221.3,989.1 L1222.0,999.3 L1222.4,1020.0 L1223.6,1026.5 L1224.8,1032.8 L1226.0,1033.7 L1227.3,1026.4 L1228.7,1019.7 L1230.0,1016.9 L1231.2,1021.6 L1232.5,1034.6 L1233.8,1043.6 L1235.0,1051.4 L1236.2,1051.8 L1237.4,1040.4 L1238.6,1031.1 L1239.8,1020.6 L1241.0,1019.2 L1242.3,1033.5 L1243.7,1045.2 L1245.0,1051.0 L1246.0,1038.4 L1247.0,1036.2 L1248.2,1041.0 L1249.4,1039.5 L1250.6,1044.5 L1251.8,1050.9 L1253.0,1047.7 L1254.3,1047.3 L1255.7,1037.3 L1257.0,1039.7 L1258.4,1045.1 L1259.8,1042.3 L1261.1,1049.9 L1262.5,1051.7 L1263.9,1055.1 L1265.2,1050.7 L1266.6,1059.6 L1268.0,1055.0 L1269.0,1050.6 L1270.0,1036.3 L1271.2,1037.2 L1272.5,1033.6 L1273.8,1036.4 L1275.0,1034.0 L1276.3,1039.7 L1277.7,1056.9 L1279.0,1065.5 L1280.3,1059.7 L1281.7,1047.2 L1283.0,1043.2 L1284.2,1041.9 L1285.5,1050.8 L1286.8,1062.7 L1288.0,1065.5 L1289.4,1063.2 L1290.8,1063.7 L1292.2,1056.8 L1293.6,1042.8 L1295.0,1042.3 L1296.4,1048.6 L1297.8,1051.6 L1299.2,1049.2 L1300.6,1045.8 L1302.0,1051.3 L1303.4,1059.5 L1304.8,1062.5 L1306.2,1054.3 L1307.6,1058.1 L1309.0,1062.4 L1310.4,1058.1 L1311.8,1059.5 L1313.2,1049.7 L1314.6,1050.1 L1316.0,1043.7 L1317.2,1045.9 L1318.5,1053.1 L1319.8,1052.1 L1321.0,1050.7 L1322.3,1051.9 L1323.7,1063.6 L1325.0,1064.1 L1326.2,1059.9 L1327.5,1054.5 L1328.8,1049.0 L1330.0,1046.6 L1331.2,1042.2 L1332.4,1046.9 L1333.6,1044.5 L1334.8,1049.4 L1336.0,1051.4 L1337.3,1050.9 L1338.7,1061.6 L1340.0,1065.9 L1341.2,1058.1 L1342.4,1064.7 L1343.6,1057.3 L1344.8,1055.7 L1346.0,1055.0 L1347.2,1059.8 L1348.4,1055.1 L1349.6,1065.3 L1350.8,1063.9 L1352.0,1070.7 L1353.2,1067.9 L1354.4,1060.8 L1355.6,1060.3 L1356.8,1058.9 L1358.0,1058.7 L1359.3,1065.2 L1360.7,1062.2 L1362.0,1065.8 L1363.4,1066.3 L1364.8,1064.4 L1366.2,1059.1 L1367.6,1055.0 L1369.0,1046.5 L1370.2,1045.6 L1371.4,1060.3 L1372.6,1056.7 L1373.8,1066.8 L1375.0,1070.6 L1376.3,1068.6 L1377.7,1063.4 L1379.0,1065.2 L1380.3,1053.1 L1381.7,1052.6 L1383.0,1051.8 L1384.2,1047.4 L1385.5,1052.4 L1386.8,1056.6 L1388.0,1058.0 L1389.2,1052.8 L1390.5,1052.5 L1391.8,1044.6 L1393.0,1047.0 L1394.3,1049.8 L1395.7,1053.5 L1397.0,1062.7 L1398.3,1054.1 L1399.7,1046.5 L1401.0,1046.1 L1402.4,1048.6 L1403.8,1044.6 L1405.2,1053.7 L1406.6,1053.7 L1408.0,1053.8 L1409.2,1057.4 L1410.4,1054.7 L1411.6,1056.6 L1412.8,1065.2 L1414.0,1060.9 L1415.2,1065.4 L1416.5,1055.6 L1417.8,1053.9 L1419.0,1056.1 L1420.2,1061.6 L1421.5,1061.5 L1422.8,1056.9 L1424.0,1062.1 L1425.5,1055.5 L1427.0,1039.4 L1428.4,1045.1 L1429.8,1037.9 L1431.2,1047.9 L1432.6,1045.1 L1434.0,1051.6 L1435.5,1047.5 L1437.0,1040.3 L1438.2,1034.6 L1439.4,1041.9 L1440.6,1030.6 L1441.8,1028.6 L1443.0,1032.4 L1444.5,1018.7 L1446.0,1015.5 L1447.2,1018.6 L1448.5,1025.3 L1449.8,1032.7 L1451.0,1030.8 L1452.5,1011.6 L1454.0,1003.5 L1455.4,1005.8 L1456.8,1007.8 L1458.1,1012.5 L1459.5,1013.5 L1461.3,995.2 L1462.4,988.7 L1463.3,980.5 L1464.2,965.8 L1465.1,957.7 L1466.3,959.0 L1467.5,960.4 L1468.6,957.9 L1469.7,952.9 L1470.2,940.2 L1471.5,927.4 L1472.1,925.0 L1473.4,935.7 L1474.0,945.6 L1475.2,933.9 L1476.7,937.2 L1478.5,947.4 L1479.9,957.0 L1481.2,959.7 L1482.5,962.3 L1484.0,963.1 L1485.6,963.2 L1486.7,975.2 L1487.5,986.0 L1488.5,997.5 L1489.9,992.4 L1491.3,988.3 L1492.2,991.5 L1493.9,1000.0 L1494.8,1005.3 L1495.5,1020.0 L1497.0,1040.0 L1498.2,1041.4 L1499.5,1042.2 L1500.8,1041.5 L1502.0,1040.6 L1503.4,1038.9 L1504.8,1039.7 L1506.2,1045.5 L1507.6,1037.6 L1509.0,1040.7 L1510.2,1044.2 L1511.5,1053.2 L1512.8,1048.2 L1514.0,1056.1 L1515.2,1053.0 L1516.5,1049.9 L1517.8,1055.7 L1519.0,1054.7 L1520.4,1053.2 L1521.8,1045.0 L1523.2,1054.1 L1524.6,1045.5 L1526.0,1046.6 L1527.2,1048.7 L1528.4,1043.1 L1529.6,1044.8 L1530.8,1043.8 L1532.0,1044.3 L1533.3,1039.6 L1534.7,1045.3 L1536.0,1038.9 L1537.3,1041.7 L1538.7,1029.9 L1540.0,1033.6 L1541.2,1031.1 L1542.4,1041.5 L1543.6,1041.3 L1544.8,1043.8 L1546.0,1039.7 L1547.4,1033.2 L1548.7,1032.9 L1550.1,1025.8 L1551.4,1019.3 L1552.8,1023.5 L1554.1,1023.3 L1555.4,1026.8 L1556.7,1037.2 L1558.0,1041.2 L1559.2,1044.9 L1560.4,1038.8 L1561.6,1034.0 L1562.8,1041.7 L1564.0,1036.9 L1565.2,1039.0 L1566.4,1034.1 L1567.6,1045.7 L1568.8,1041.5 L1570.0,1042.0 L1571.3,1044.4 L1572.7,1055.4 L1574.0,1060.5 L1575.3,1055.3 L1576.7,1047.3 L1578.0,1046.2 L1579.3,1048.1 L1580.7,1039.0 L1582.0,1039.7 L1583.3,1050.0 L1584.7,1053.5 L1586.0,1062.5 L1587.3,1061.0 L1588.6,1054.7 L1590.0,1051.7 L1591.3,1060.7 L1592.6,1054.6 L1593.9,1056.7 L1595.3,1068.3 L1596.7,1070.1 L1598.0,1071.9 L1599.2,1067.6 L1600.4,1069.1 L1601.6,1058.3 L1602.8,1056.8 L1604.0,1056.4 L1605.3,1060.8 L1606.7,1062.7 L1608.0,1070.1 L1609.3,1070.3 L1610.7,1064.7 L1612.0,1057.3 L1613.5,1068.2 L1615.0,1064.2 L1616.5,1070.9 L1617.7,1064.6 L1618.8,1063.2 L1620.0,1059.7 L1621.2,1057.0 L1622.4,1054.1 L1623.6,1065.9 L1624.8,1064.1 L1626.0,1071.6 L1627.3,1065.8 L1628.7,1062.4 L1630.0,1060.0 L1631.3,1067.2 L1632.7,1065.5 L1634.0,1074.0 L1635.3,1067.9 L1636.7,1064.9 L1638.0,1061.1 L1639.2,1062.3 L1640.5,1071.0 L1641.8,1075.5 L1643.0,1071.5 L1644.2,1068.1 L1645.5,1069.6 L1646.8,1055.7 L1648.0,1057.6 L1649.2,1058.3 L1650.4,1068.6 L1651.6,1062.6 L1652.8,1072.5 L1654.0,1073.0 L1655.2,1073.3 L1656.4,1061.0 L1657.6,1068.1 L1658.8,1056.9 L1660.0,1059.0 L1661.5,1064.7 L1663.0,1067.5 L1664.4,1065.9 L1665.8,1056.5 L1667.2,1056.6 L1668.7,1067.2 L1670.1,1070.3 L1671.5,1073.7 L1672.8,1072.7 L1674.0,1071.2 L1675.3,1059.0 L1676.5,1059.3 L1677.8,1056.0 L1679.1,1063.2 L1680.4,1067.0 L1681.7,1071.9 L1683.0,1068.1 L1684.4,1070.1 L1685.8,1069.1 L1687.2,1064.5 L1688.6,1065.2 L1690.0,1068.6"/>
</g>
<g clip-path="url(#plot)">
<path class="curve" stroke="#ff0000" d="M172.0,769.5 L173.0,769.6 L174.0,768.0 L175.3,771.5 L176.7,776.1 L178.0,776.4 L179.2,773.2 L180.4,778.8 L181.6,772.8 L182.8,771.2 L184.0,773.2 L185.2,770.3 L186.4,771.5 L187.6,767.0 L188.8,767.0 L190.0,764.6 L191.2,768.1 L192.5,773.6 L193.8,774.4 L195.0,776.4 L196.2,775.5 L197.5,767.1 L198.8,769.1 L200.0,765.7 L201.3,764.9 L202.7,765.3 L204.0,772.9 L205.2,775.5 L206.3,782.3 L207.4,787.8 L208.6,787.1 L209.9,784.2 L211.1,769.3 L212.4,765.1 L213.8,765.7 L215.2,773.5 L216.6,777.0 L218.0,774.7 L219.3,771.1 L220.7,767.6 L222.0,768.1 L223.3,758.4 L224.7,755.7 L226.0,752.5 L227.2,756.9 L228.5,764.5 L229.8,772.7 L231.0,778.0 L232.3,775.7 L233.7,773.2 L235.0,767.7 L236.3,772.8 L237.7,776.3 L239.0,776.8 L240.3,775.6 L241.7,768.9 L243.0,771.1 L244.3,775.7 L245.7,778.4 L247.0,777.1 L248.2,777.8 L249.5,771.5 L250.8,773.5 L252.0,768.1 L253.2,762.7 L254.4,756.5 L255.6,758.3 L256.8,756.0 L258.0,749.7 L259.2,754.6 L260.5,754.6 L261.8,755.7 L263.0,759.5 L264.2,760.9 L265.4,758.7 L266.6,748.5 L267.8,750.0 L269.0,746.7 L270.2,753.5 L271.5,759.2 L272.8,772.4 L274.0,774.5 L275.2,771.6 L276.5,771.8 L277.8,762.4 L279.0,761.2 L280.4,764.5 L281.8,763.7 L283.2,769.3 L284.6,774.7 L286.0,777.2 L287.2,773.4 L288.5,770.6 L289.8,774.4 L291.0,766.8 L292.2,768.7 L293.5,765.5 L294.8,759.3 L296.0,759.5 L297.2,760.5 L298.4,763.4 L299.6,765.3 L300.8,766.8 L302.0,767.5 L303.3,770.2 L304.7,765.9 L306.0,765.2 L307.2,770.4 L308.5,773.8 L309.8,781.5 L311.0,787.5 L312.4,785.7 L313.8,783.5 L315.2,775.8 L316.6,775.1 L318.0,772.0 L319.3,763.2 L320.6,761.5 L321.8,755.1 L323.1,745.5 L324.4,747.3 L325.5,751.2 L326.7,762.6 L327.9,769.7 L329.0,775.8 L330.3,773.3 L331.7,760.4 L333.0,759.3 L334.3,762.6 L335.6,767.1 L336.9,764.4 L338.1,769.3 L339.4,773.3 L340.7,773.4 L342.0,775.3 L343.2,772.8 L344.4,770.1 L345.6,768.1 L346.8,762.5 L348.0,762.5 L349.2,767.6 L350.5,767.4 L351.8,777.6 L353.0,780.2 L354.3,775.1 L355.7,768.8 L357.0,768.8 L358.3,768.8 L359.7,773.6 L361.0,778.7 L362.2,776.6 L363.5,763.2 L364.8,756.5 L366.0,753.6 L367.4,758.3 L368.8,759.0 L370.2,767.0 L371.6,765.4 L373.0,769.3 L374.3,770.5 L375.6,771.4 L376.9,766.5 L378.2,762.9 L379.5,760.2 L380.8,761.5 L382.1,757.0 L383.4,760.5 L384.7,759.8 L386.0,756.0 L387.3,755.3 L388.5,760.5 L389.8,760.7 L391.1,763.8 L392.4,762.2 L393.6,762.6 L394.9,765.9 L396.2,771.8 L397.5,769.1 L398.7,770.7 L400.0,772.1 L401.3,771.2 L402.7,769.9 L404.0,772.3 L405.3,764.1 L406.7,760.8 L408.0,766.3 L409.3,764.1 L410.7,763.7 L412.0,759.2 L413.2,765.0 L414.5,769.2 L415.8,768.0 L417.0,772.8 L418.3,770.1 L419.7,759.9 L421.0,753.9 L422.4,753.1 L423.8,755.9 L425.1,758.4 L426.5,761.0 L427.9,769.0 L429.2,770.0 L430.6,776.6 L432.0,773.9 L433.3,777.0 L434.6,772.1 L435.9,769.6 L437.1,764.6 L438.4,760.3 L439.7,754.5 L441.0,751.5 L442.2,756.5 L443.5,756.0 L444.8,761.1 L446.0,765.0 L447.2,763.6 L448.4,759.9 L449.6,760.6 L450.8,755.0 L452.0,752.0 L453.2,749.9 L454.4,754.2 L455.6,750.8 L456.8,753.0 L458.0,750.3 L459.3,748.5 L460.7,751.8 L462.0,753.2 L463.3,756.4 L464.7,772.5 L466.0,777.0 L467.2,777.1 L468.4,774.0 L469.6,763.5 L470.8,764.9 L472.0,762.7 L473.2,757.3 L474.5,758.3 L475.8,757.5 L477.0,759.0 L478.2,757.6 L479.5,757.6 L480.8,759.8 L482.0,756.3 L483.2,754.6 L484.5,756.8 L485.8,759.2 L487.0,761.4 L488.2,771.4 L489.5,772.8 L490.8,768.3 L492.0,772.2 L493.3,770.2 L494.7,768.8 L496.0,767.0 L497.3,766.9 L498.7,763.8 L500.0,759.6 L501.3,756.1 L502.7,755.8 L504.0,755.7 L505.2,757.8 L506.4,760.9 L507.6,760.6 L508.8,760.6 L510.0,765.3 L511.3,767.0 L512.6,770.9 L513.9,774.4 L515.1,773.1 L516.4,778.1 L517.7,777.7 L519.0,777.0 L520.3,774.8 L521.6,772.5 L522.9,769.6 L524.1,762.4 L525.4,760.0 L526.7,754.8 L528.0,753.2 L529.2,754.3 L530.4,756.2 L531.6,752.2 L532.8,756.1 L534.0,757.8 L535.2,763.3 L536.5,767.2 L537.8,765.8 L539.0,769.1 L540.2,768.7 L541.4,760.1 L542.6,756.5 L543.8,749.4 L545.0,751.3 L546.2,754.1 L547.5,760.9 L548.8,765.1 L550.0,765.5 L551.5,759.8 L553.0,748.4 L554.4,740.4 L555.8,739.9 L557.2,731.4 L558.6,730.0 L560.0,732.5 L561.2,730.2 L562.5,735.1 L563.8,739.7 L565.0,745.8 L566.3,737.2 L567.7,726.3 L569.0,725.7 L570.2,722.4 L571.4,729.5 L572.6,729.6 L573.8,732.2 L575.0,731.1 L576.3,723.4 L577.7,711.6 L579.0,702.0 L580.3,704.3 L581.7,707.2 L583.0,709.0 L584.3,697.8 L585.6,680.0 L587.0,660.0 L588.0,647.6 L589.0,640.0 L590.0,636.0 L591.0,620.0 L592.0,598.9 L593.6,579.0 L595.0,560.1 L596.0,550.7 L597.0,540.0 L598.0,520.0 L599.0,500.0 L600.0,480.0 L601.5,471.4 L603.0,466.0 L604.0,481.7 L605.0,459.0 L606.3,476.0 L604.0,482.5 L605.5,483.5 L607.0,483.3 L608.5,484.5 L609.7,484.4 L610.8,483.0 L612.0,482.0 L613.0,492.0 L614.0,500.0 L615.0,520.0 L616.0,540.9 L617.0,559.5 L618.0,579.1 L619.0,590.5 L620.0,599.6 L621.4,620.0 L622.6,640.0 L624.0,660.0 L625.0,670.0 L626.0,680.0 L627.0,691.0 L628.0,700.0 L629.3,706.6 L630.7,713.2 L632.0,720.0 L633.0,731.3 L634.0,740.3 L635.2,738.6 L636.5,738.4 L637.8,735.1 L639.0,733.2 L640.3,739.4 L641.7,752.4 L643.0,764.0 L644.2,760.8 L645.4,753.6 L646.6,748.5 L647.8,742.7 L649.0,742.5 L650.3,745.5 L651.7,764.5 L653.0,767.1 L654.3,767.1 L655.7,763.9 L657.0,764.0 L658.3,761.1 L659.7,756.8 L661.0,755.4 L662.3,762.6 L663.7,773.7 L665.0,776.0 L666.3,773.5 L667.7,766.7 L669.0,758.3 L670.2,758.0 L671.5,761.9 L672.8,769.7 L674.0,770.1 L675.2,772.2 L676.4,768.6 L677.6,760.4 L678.8,757.2 L680.0,758.0 L681.4,758.0 L682.8,766.8 L684.2,773.6 L685.6,778.5 L687.0,776.7 L688.3,779.1 L689.6,771.9 L690.9,768.9 L692.1,767.1 L693.4,758.1 L694.7,755.4 L696.0,758.3 L697.3,760.2 L698.7,768.8 L700.0,774.5 L701.2,774.6 L702.5,766.5 L703.8,765.2 L705.0,761.6 L706.2,757.5 L707.5,751.3 L708.8,751.6 L710.0,750.9 L711.2,750.6 L712.4,755.6 L713.6,756.7 L714.8,761.7 L716.0,765.5 L717.3,761.7 L718.7,767.1 L720.0,765.9 L721.3,757.8 L722.7,762.6 L724.0,756.6 L725.3,754.5 L726.7,747.3 L728.0,738.6 L729.3,736.3 L730.7,732.5 L732.0,727.8 L733.3,722.4 L734.7,720.3 L736.0,714.8 L737.5,706.6 L739.0,697.0 L740.5,684.9 L742.0,683.0 L743.2,683.0 L744.4,688.7 L745.6,691.7 L746.8,693.6 L748.0,693.5 L749.2,694.6 L750.4,692.4 L751.6,686.3 L752.8,690.0 L754.0,686.2 L755.3,690.5 L756.7,706.5 L758.0,713.7 L759.2,717.5 L760.5,722.2 L761.8,724.5 L763.0,727.7 L764.5,736.7 L766.0,740.8 L767.2,739.2 L768.4,737.7 L769.6,736.3 L770.8,741.0 L772.0,739.7 L773.2,739.9 L774.4,742.8 L775.6,741.8 L776.8,743.6 L778.0,747.9 L779.5,759.5 L781.0,762.0 L782.3,758.6 L783.7,748.1 L785.0,746.2 L786.5,753.3 L788.0,763.0 L789.2,761.2 L790.4,758.9 L791.6,756.6 L792.8,749.8 L794.0,750.4 L795.3,749.7 L796.7,756.8 L798.0,760.9 L799.4,758.6 L800.8,763.6 L802.2,762.7 L803.6,758.1 L805.0,759.7 L806.2,761.8 L807.5,769.0 L808.8,774.7 L810.0,776.2 L811.3,778.4 L812.6,776.7 L813.9,780.5 L815.1,780.3 L816.4,784.2 L817.7,785.3 L819.0,784.3 L820.2,780.4 L821.4,778.4 L822.6,765.0 L823.8,764.9 L825.0,760.8 L826.2,763.9 L827.5,760.4 L828.8,763.2 L830.0,764.6 L831.2,768.6 L832.5,776.0 L833.8,777.9 L835.0,777.8 L836.2,778.7 L837.5,770.3 L838.8,765.9 L840.0,763.2 L841.4,760.2 L842.8,770.0 L844.2,773.6 L845.6,775.9 L847.0,777.6 L848.4,776.7 L849.8,773.3 L851.2,774.3 L852.6,768.6 L854.0,770.9 L855.2,770.9 L856.4,768.0 L857.6,767.8 L858.8,770.1 L860.0,767.0 L861.2,763.4 L862.5,769.2 L863.8,768.4 L865.0,766.6 L866.4,765.0 L867.8,760.1 L869.2,754.2 L870.6,754.0 L872.0,753.1 L873.2,751.4 L874.4,757.8 L875.6,759.3 L876.8,758.1 L878.0,765.0 L879.2,769.1 L880.5,777.0 L881.8,779.8 L883.0,780.6 L884.2,777.7 L885.4,778.8 L886.6,776.3 L887.8,772.1 L889.0,766.1 L890.3,765.1 L891.7,759.9 L893.0,757.8 L894.2,755.3 L895.5,756.3 L896.8,758.4 L898.0,761.5 L899.5,773.6 L901.0,784.5 L902.3,778.0 L903.7,765.4 L905.0,760.1 L906.4,759.1 L907.8,762.9 L909.2,768.5 L910.6,768.8 L912.0,771.2 L913.4,776.8 L914.8,777.1 L916.2,775.7 L917.6,776.8 L919.0,778.3 L920.2,778.2 L921.5,773.3 L922.8,768.7 L924.0,767.2 L925.2,768.6 L926.5,760.7 L927.8,761.3 L929.0,760.1 L930.4,761.1 L931.8,766.8 L933.2,775.8 L934.6,779.9 L936.0,784.0 L937.3,776.9 L938.7,768.0 L940.0,765.6 L941.2,764.7 L942.5,770.3 L943.8,779.5 L945.0,782.3 L946.4,783.2 L947.8,775.6 L949.2,775.7 L950.6,773.3 L952.0,772.0 L953.3,777.1 L954.7,771.8 L956.0,771.6 L957.3,775.5 L958.7,773.7 L960.0,776.9 L961.3,775.3 L962.7,773.3 L964.0,772.3 L965.3,777.1 L966.7,772.9 L968.0,774.6 L969.2,771.5 L970.5,771.4 L971.8,762.7 L973.0,762.1 L974.2,763.4 L975.5,773.6 L976.8,777.9 L978.0,779.1 L979.3,775.6 L980.6,778.5 L981.9,778.5 L983.1,772.9 L984.4,765.8 L985.7,764.3 L987.0,766.4 L988.2,766.7 L989.5,769.9 L990.8,774.3 L992.0,780.2 L993.2,782.0 L994.5,774.1 L995.8,778.0 L997.0,773.1 L998.2,777.9 L999.5,784.0 L1000.8,789.3 L1002.0,787.0 L1003.3,784.8 L1004.7,782.9 L1006.0,780.0 L1007.3,767.4 L1008.7,764.7 L1010.0,765.5 L1011.2,763.6 L1012.5,770.3 L1013.8,774.4 L1015.0,778.2 L1016.2,779.7 L1017.4,770.2 L1018.6,770.6 L1019.8,767.1 L1021.0,764.6 L1022.2,765.5 L1023.5,771.8 L1024.8,771.3 L1026.0,775.9 L1027.2,777.6 L1028.5,786.0 L1029.8,786.8 L1031.0,787.8 L1032.2,784.5 L1033.5,786.4 L1034.8,782.9 L1036.0,781.4 L1037.2,780.8 L1038.5,783.5 L1039.8,782.7 L1041.0,786.8 L1042.2,779.4 L1043.5,776.2 L1044.8,771.5 L1046.0,766.1 L1047.4,761.5 L1048.8,761.9 L1050.2,766.2 L1051.6,764.2 L1053.0,763.9 L1054.2,768.3 L1055.5,770.2 L1056.8,779.3 L1058.0,780.0 L1059.2,779.2 L1060.4,780.5 L1061.6,778.9 L1062.8,782.0 L1064.0,784.1 L1065.3,776.6 L1066.7,773.5 L1068.0,766.5 L1069.4,760.4 L1070.8,761.3 L1072.2,754.9 L1073.6,751.2 L1075.0,753.2 L1076.2,758.1 L1077.4,764.5 L1078.6,768.2 L1079.8,776.9 L1081.0,783.1 L1082.2,778.8 L1083.4,778.9 L1084.6,774.3 L1085.8,773.4 L1087.0,768.1 L1088.2,766.8 L1089.4,760.8 L1090.6,754.3 L1091.8,751.5 L1093.0,752.0 L1094.4,757.5 L1095.8,756.5 L1097.2,761.5 L1098.6,774.3 L1100.0,772.9 L1101.3,778.1 L1102.7,772.8 L1104.0,776.9 L1105.3,775.7 L1106.7,781.1 L1108.0,778.9 L1109.3,778.3 L1110.6,775.6 L1111.8,772.1 L1113.1,764.3 L1114.4,764.2 L1115.8,765.7 L1117.2,767.8 L1118.6,778.9 L1120.0,779.8 L1121.2,783.6 L1122.4,780.0 L1123.6,783.6 L1124.8,783.7 L1126.0,784.8 L1127.2,778.1 L1128.5,774.2 L1129.8,769.3 L1131.0,765.6 L1132.3,770.1 L1133.7,777.4 L1135.0,778.4 L1136.2,778.3 L1137.4,774.4 L1138.6,767.0 L1139.8,764.5 L1141.0,765.4 L1142.2,763.8 L1143.4,766.7 L1144.6,766.4 L1145.8,769.5 L1147.0,771.9 L1148.4,774.3 L1149.8,768.4 L1151.2,764.4 L1152.6,761.0 L1154.0,755.6 L1155.2,760.9 L1156.5,762.4 L1157.8,766.1 L1159.0,769.5 L1160.2,769.5 L1161.4,766.6 L1162.6,760.3 L1163.8,757.1 L1165.0,751.6 L1166.5,749.0 L1168.0,742.8 L1169.5,733.9 L1171.0,732.4 L1172.2,731.2 L1173.5,732.6 L1174.8,737.2 L1176.0,737.0 L1177.1,734.3 L1178.2,728.0 L1179.3,720.0 L1180.3,711.0 L1181.3,699.5 L1182.3,689.4 L1183.3,679.8 L1184.3,669.8 L1185.3,660.4 L1186.6,652.5 L1188.0,645.9 L1189.3,640.0 L1190.8,629.5 L1192.3,619.4 L1193.4,612.7 L1194.6,610.3 L1195.7,607.5 L1196.9,616.8 L1198.1,627.9 L1199.3,630.0 L1200.5,629.7 L1201.8,629.3 L1203.0,629.6 L1204.3,630.0 L1205.3,637.9 L1206.3,650.7 L1207.3,660.6 L1208.3,670.1 L1209.3,678.4 L1210.3,683.6 L1211.8,678.9 L1213.3,672.8 L1214.3,673.3 L1215.3,676.0 L1216.3,686.7 L1217.3,699.6 L1218.8,711.4 L1220.3,724.0 L1222.0,740.0 L1223.2,737.5 L1224.5,734.8 L1225.8,733.2 L1227.0,733.9 L1228.0,745.9 L1229.0,760.6 L1230.2,764.4 L1231.5,767.5 L1232.8,764.9 L1234.0,767.2 L1235.2,764.8 L1236.4,768.8 L1237.6,768.6 L1238.8,766.6 L1240.0,770.5 L1241.2,766.3 L1242.5,766.3 L1243.8,764.0 L1245.0,766.0 L1246.2,765.8 L1247.5,767.2 L1248.8,768.1 L1250.0,772.8 L1251.2,773.4 L1252.4,772.4 L1253.6,772.6 L1254.8,770.4 L1256.0,766.8 L1257.2,767.0 L1258.5,777.5 L1259.8,783.2 L1261.0,783.5 L1262.3,785.5 L1263.6,781.8 L1264.9,777.7 L1266.1,774.6 L1267.4,771.4 L1268.7,775.0 L1270.0,774.2 L1271.2,778.0 L1272.5,777.8 L1273.8,782.7 L1275.0,783.9 L1276.3,783.9 L1277.7,779.5 L1279.0,777.0 L1280.4,778.3 L1281.8,777.8 L1283.2,780.7 L1284.6,787.0 L1286.0,787.6 L1287.3,785.9 L1288.7,782.6 L1290.0,779.3 L1291.3,777.2 L1292.7,777.8 L1294.0,774.4 L1295.2,778.2 L1296.4,771.9 L1297.6,773.4 L1298.8,775.2 L1300.0,775.2 L1301.2,779.7 L1302.4,782.7 L1303.6,787.3 L1304.8,787.8 L1306.0,787.0 L1307.3,786.0 L1308.7,780.5 L1310.0,776.3 L1311.4,772.9 L1312.8,774.9 L1314.2,775.3 L1315.6,768.0 L1317.0,771.3 L1318.2,773.3 L1319.5,781.8 L1320.8,792.2 L1322.0,793.5 L1323.4,793.2 L1324.8,788.7 L1326.2,793.5 L1327.6,786.7 L1329.0,788.6 L1330.3,793.0 L1331.7,791.6 L1333.0,794.0 L1334.4,798.0 L1335.8,797.6 L1337.2,791.9 L1338.6,791.7 L1340.0,791.1 L1341.2,786.4 L1342.4,783.3 L1343.6,784.6 L1344.8,773.7 L1346.0,774.9 L1347.2,773.8 L1348.4,774.4 L1349.6,779.9 L1350.8,783.2 L1352.0,782.7 L1353.2,781.7 L1354.4,780.2 L1355.6,770.1 L1356.8,769.4 L1358.0,770.9 L1359.2,768.0 L1360.5,773.3 L1361.8,779.5 L1363.0,783.2 L1364.2,787.3 L1365.5,788.8 L1366.8,792.6 L1368.0,795.6 L1369.2,789.6 L1370.4,783.8 L1371.6,769.6 L1372.8,764.0 L1374.0,758.2 L1375.2,760.6 L1376.4,763.1 L1377.6,768.3 L1378.8,776.2 L1380.0,776.4 L1381.3,774.9 L1382.7,780.1 L1384.0,780.6 L1385.3,774.0 L1386.7,781.4 L1388.0,778.0 L1389.3,780.5 L1390.7,784.6 L1392.0,790.9 L1393.2,793.2 L1394.4,783.2 L1395.6,776.8 L1396.8,772.6 L1398.0,772.7 L1399.3,775.1 L1400.7,784.5 L1402.0,782.8 L1403.3,778.7 L1404.7,779.8 L1406.0,774.9 L1407.3,781.8 L1408.7,784.0 L1410.0,789.9 L1411.3,790.7 L1412.7,781.2 L1414.0,778.6 L1415.3,779.8 L1416.7,783.3 L1418.0,789.8 L1419.2,790.6 L1420.5,787.0 L1421.8,780.6 L1423.0,776.1 L1424.3,772.7 L1425.7,768.4 L1427.0,767.4 L1428.2,772.1 L1429.5,771.9 L1430.8,779.8 L1432.0,781.8 L1433.3,779.1 L1434.7,768.4 L1436.0,762.8 L1437.3,756.5 L1438.7,746.7 L1440.0,744.4 L1441.3,743.3 L1442.7,743.7 L1444.0,753.3 L1445.3,750.9 L1446.7,756.3 L1448.0,753.0 L1449.2,748.6 L1450.5,751.9 L1451.8,746.5 L1453.0,740.4 L1454.5,732.6 L1456.0,723.8 L1457.2,723.0 L1458.5,715.6 L1459.8,717.0 L1461.0,713.5 L1462.5,699.6 L1464.0,693.8 L1465.2,693.5 L1466.5,695.7 L1467.8,696.5 L1469.0,697.4 L1470.0,690.2 L1471.0,680.8 L1472.5,672.5 L1474.0,665.6 L1475.2,667.5 L1476.4,669.8 L1477.6,670.9 L1478.8,678.0 L1480.0,679.7 L1481.3,684.1 L1482.7,692.9 L1484.0,700.3 L1485.3,706.0 L1486.7,714.0 L1488.0,718.8 L1489.5,729.7 L1491.0,729.5 L1492.2,728.9 L1493.5,728.2 L1494.8,729.9 L1496.0,727.0 L1497.5,735.3 L1499.0,747.7 L1500.3,754.5 L1501.7,757.3 L1503.0,762.9 L1504.3,769.2 L1505.7,771.8 L1507.0,769.0 L1508.3,777.8 L1509.7,775.6 L1511.0,778.3 L1512.2,774.7 L1513.4,770.1 L1514.6,768.7 L1515.8,768.0 L1517.0,763.3 L1518.3,769.8 L1519.7,774.9 L1521.0,776.3 L1522.4,774.1 L1523.8,773.5 L1525.2,770.0 L1526.6,767.6 L1528.0,767.9 L1529.4,769.7 L1530.8,769.4 L1532.2,768.5 L1533.6,769.8 L1535.0,771.2 L1536.3,763.2 L1537.7,745.1 L1539.0,737.4 L1540.2,740.3 L1541.5,747.1 L1542.8,753.5 L1544.0,760.2 L1545.3,765.0 L1546.7,763.0 L1548.0,764.4 L1549.4,768.2 L1550.8,770.3 L1552.2,772.9 L1553.6,770.6 L1555.0,772.1 L1556.4,767.5 L1557.8,770.9 L1559.2,763.6 L1560.6,761.7 L1562.0,761.7 L1563.3,764.4 L1564.7,773.5 L1566.0,782.1 L1567.2,781.3 L1568.4,775.4 L1569.6,772.7 L1570.8,773.5 L1572.0,772.7 L1573.4,776.6 L1574.8,771.6 L1576.1,772.5 L1577.5,773.8 L1578.9,775.1 L1580.2,775.0 L1581.6,777.1 L1583.0,777.0 L1584.4,779.2 L1585.8,782.8 L1587.2,797.2 L1588.6,801.0 L1590.0,801.0 L1591.2,800.2 L1592.5,799.4 L1593.8,797.3 L1595.0,788.7 L1596.2,782.4 L1597.4,782.2 L1598.6,778.1 L1599.8,779.2 L1601.0,775.7 L1602.2,775.6 L1603.5,780.8 L1604.8,786.6 L1606.0,788.9 L1607.2,785.2 L1608.4,785.8 L1609.6,782.3 L1610.8,785.8 L1612.0,783.1 L1613.3,788.9 L1614.7,788.6 L1616.0,792.9 L1617.3,792.9 L1618.7,797.1 L1620.0,800.4 L1621.3,800.7 L1622.7,793.2 L1624.0,789.8 L1625.3,794.9 L1626.7,794.2 L1628.0,795.6 L1629.3,795.5 L1630.7,798.1 L1632.0,801.5 L1633.4,796.0 L1634.8,795.6 L1636.2,791.9 L1637.6,786.1 L1639.0,786.4 L1640.3,790.1 L1641.7,792.1 L1643.0,792.7 L1644.2,793.1 L1645.5,796.3 L1646.8,803.0 L1648.0,804.6 L1649.3,801.4 L1650.6,803.6 L1651.9,794.0 L1653.1,794.1 L1654.4,790.7 L1655.7,780.9 L1657.0,783.7 L1658.2,784.2 L1659.5,787.9 L1660.8,792.8 L1662.0,796.6 L1663.2,795.6 L1664.5,790.2 L1665.8,789.5 L1667.0,785.4 L1668.3,781.9 L1669.7,786.7 L1671.0,789.4 L1672.3,790.6 L1673.7,793.7 L1675.0,796.7 L1676.2,799.7 L1677.4,797.6 L1678.6,796.3 L1679.8,797.6 L1681.0,799.8 L1682.3,795.1 L1683.7,781.9 L1685.0,777.2 L1686.5,771.8 L1688.0,773.0"/>
</g>
<g fill="#000" shape-rendering="crispEdges">
<rect x="170" y="21" width="1520" height="6"/>
<rect x="170" y="1160" width="1520" height="7"/>
<rect x="167" y="24" width="7" height="1140"/>
<rect x="1686" y="24" width="7" height="1140"/>
</g>
<g fill="#000">
<rect x="243.20" y="1149" width="6.5" height="13"/>
<rect x="319.15" y="1136" width="6.5" height="26"/>
<rect x="395.10" y="1149" width="6.5" height="13"/>
<rect x="471.05" y="1136" width="6.5" height="26"/>
<rect x="547.00" y="1149" width="6.5" height="13"/>
<rect x="622.95" y="1136" width="6.5" height="26"/>
<rect x="698.90" y="1149" width="6.5" height="13"/>
<rect x="774.85" y="1136" width="6.5" height="26"/>
<rect x="850.80" y="1149" width="6.5" height="13"/>
<rect x="926.75" y="1136" width="6.5" height="26"/>
<rect x="1002.70" y="1149" width="6.5" height="13"/>
<rect x="1078.65" y="1136" width="6.5" height="26"/>
<rect x="1154.60" y="1149" width="6.5" height="13"/>
<rect x="1230.55" y="1136" width="6.5" height="26"/>
<rect x="1306.50" y="1149" width="6.5" height="13"/>
<rect x="1382.45" y="1136" width="6.5" height="26"/>
<rect x="1458.40" y="1149" width="6.5" height="13"/>
<rect x="1534.35" y="1136" width="6.5" height="26"/>
<rect x="1610.30" y="1149" width="6.5" height="13"/>
</g>
<rect x="1515" y="1071.7" width="162" height="69.8" fill="#ffffff"/>
<text class="tick" transform="translate(169.5,1242.4) scale(1,1.020)"><tspan dx="2.6">1</tspan><tspan dx="-2.6">5</tspan></text>
<text class="tick" transform="translate(321.4,1242.4) scale(1,1.020)">20</text>
<text class="tick" transform="translate(473.3,1242.4) scale(1,1.020)">25</text>
<text class="tick" transform="translate(625.2,1242.4) scale(1,1.020)">30</text>
<text class="tick" transform="translate(777.1,1242.4) scale(1,1.020)">35</text>
<text class="tick" transform="translate(929.0,1242.4) scale(1,1.020)">40</text>
<text class="tick" transform="translate(1080.9,1242.4) scale(1,1.020)">45</text>
<text class="tick" transform="translate(1232.8,1242.4) scale(1,1.020)">50</text>
<text class="tick" transform="translate(1384.7,1242.4) scale(1,1.020)">55</text>
<text class="tick" transform="translate(1536.6,1242.4) scale(1,1.020)">60</text>
<text class="tick" transform="translate(1688.5,1242.4) scale(1,1.020)">65</text>
<text class="lab" transform="translate(1673.5,606.0) scale(1,1.045)">CSDR-2</text>
<text class="lab" transform="translate(1676.5,870.0) scale(1,1.045)">CSDR-<tspan dx="3">1</tspan></text>
<text class="lab" transform="translate(1673.3,1126.0)" style="font-size:59.2px">Fresh</text>
<g fill="#ffffff">
<rect x="138" y="1235.8" width="14.1" height="7.6"/>
<rect x="158.8" y="1235.8" width="14" height="7.6"/>
<rect x="1644" y="864.4" width="13.8" height="7.2"/>
<rect x="1663.6" y="864.4" width="13" height="7.2"/>
</g>
<text class="ax" transform="translate(569.8,1367.8)" font-size="75.8">Diffraction angle, 2<tspan class="th" dx="-0.45" dy="0.5" font-size="71.5" textLength="39.9" lengthAdjust="spacingAndGlyphs" stroke="#000" stroke-width="1.25" stroke-linejoin="round">θ</tspan></text>
<text class="ax" transform="translate(99.4,1030.0) rotate(-90)" font-size="78.5">Normalized intensity</text>
</svg>
</body>
</html>
